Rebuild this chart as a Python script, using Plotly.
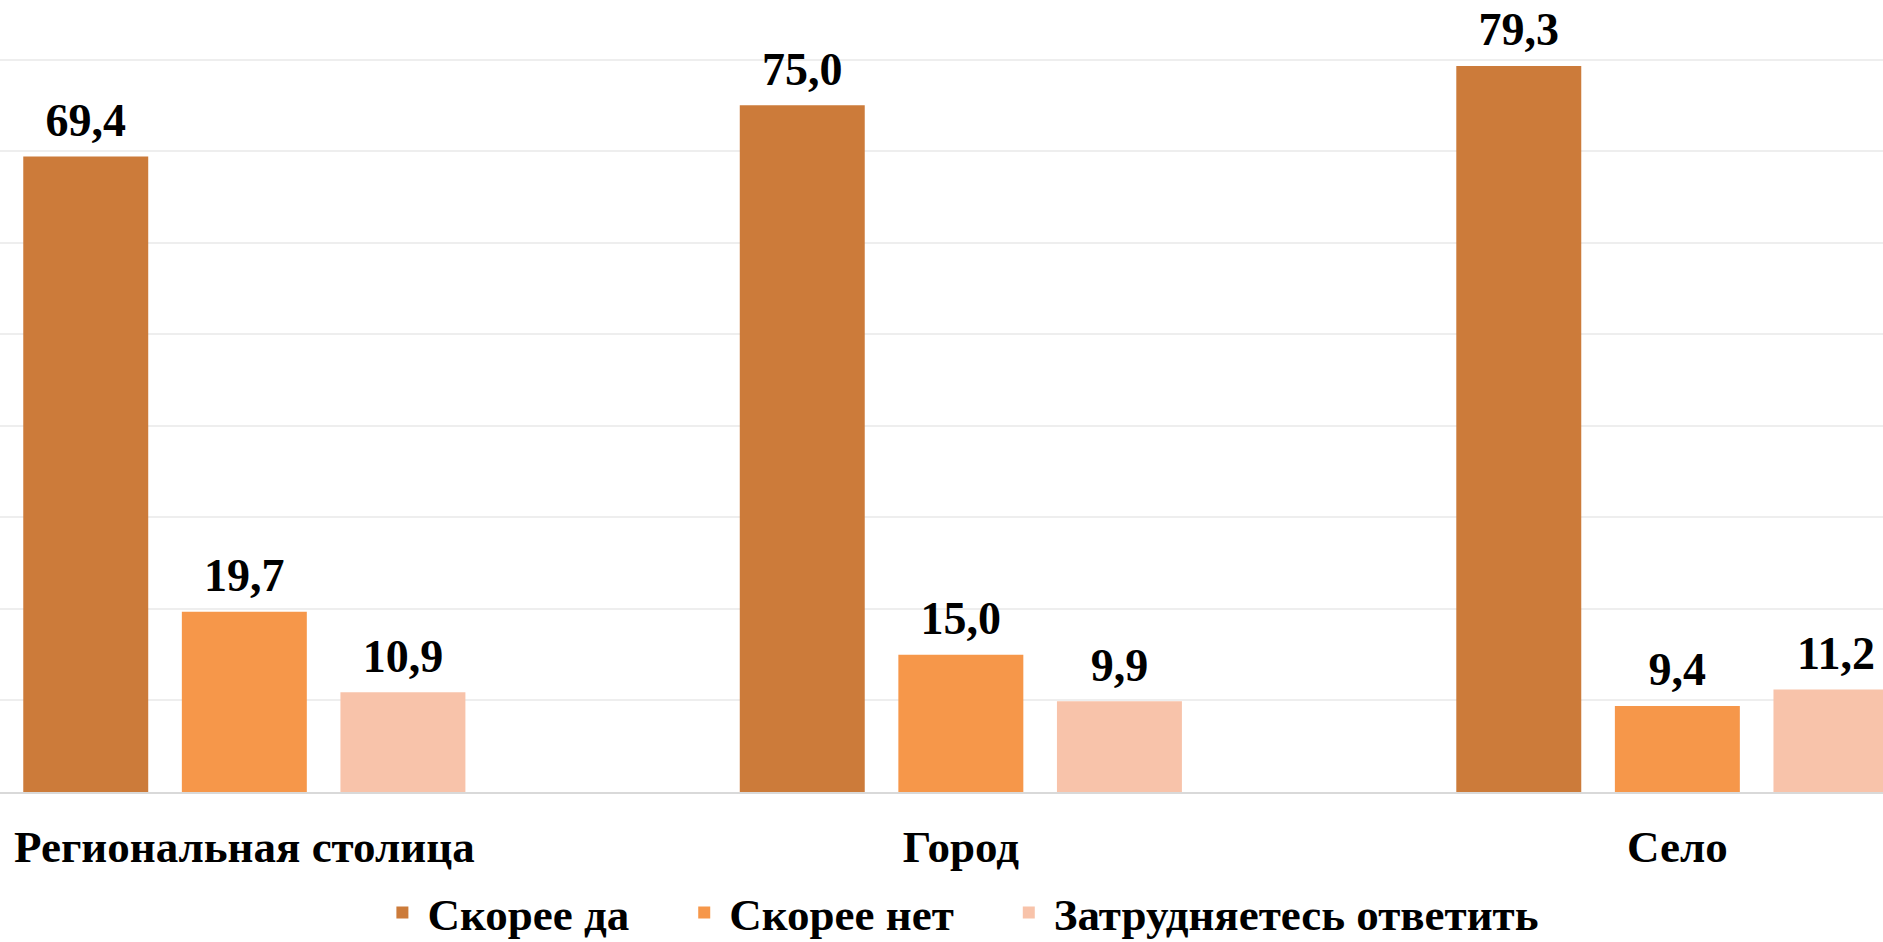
import plotly.graph_objects as go

categories = ["Региональная столица", "Город", "Село"]
series_names = ["Скорее да", "Скорее нет", "Затрудняетесь ответить"]
yes_values = [69.4, 75.0, 79.3]
no_values = [19.7, 15.0, 9.4]
hard_values = [10.9, 9.9, 11.2]
colors = ["#CC7B3A", "#F6974A", "#F8C3AA"]

FONT = "Liberation Serif"
PAD = "\u00a0" * 4

fig = go.Figure()
for i, (name, vals, col) in enumerate(zip(series_names, [yes_values, no_values, hard_values], colors)):
    label = "<b>" + name + "</b>" + (PAD if i < len(series_names) - 1 else "")
    fig.add_trace(go.Bar(
        x=categories, y=vals, name=label,
        marker=dict(color=col, line=dict(width=0)),
    ))
for name, vals in zip(series_names, [yes_values, no_values, hard_values]):
    fig.add_trace(go.Scatter(
        x=categories, y=vals, name=name, mode="markers+text",
        marker=dict(size=13, color="rgba(0,0,0,0)"),
        texttemplate="<b>%{y:.1f}</b>", textposition="top center",
        textfont=dict(family=FONT, size=46, color="#000000"),
        showlegend=False, cliponaxis=False, hoverinfo="skip",
    ))

fig.update_layout(
    width=1883, height=942,
    margin=dict(l=0, r=0, t=0, b=150),
    paper_bgcolor="white", plot_bgcolor="white",
    barmode="group", bargap=0.336, bargroupgap=0.212,
    scattermode="group", scattergap=0.336,
    separators=", ",
    showlegend=True,
    legend=dict(orientation="h", x=0.5103, xanchor="center",
                yref="container", y=0.031, yanchor="middle",
                font=dict(family=FONT, size=45, color="#000000"),
                itemwidth=40, traceorder="normal", maxheight=300,
                bgcolor="rgba(0,0,0,0)"),
    font=dict(family=FONT),
)
fig.update_xaxes(
    range=[-0.341, 2.287], showgrid=False,
    showline=True, linecolor="#D9D9D9", linewidth=2,
    ticks="", ticklabelstandoff=14,
    tickfont=dict(family=FONT, size=45, color="#000000"),
    tickprefix="<b>", ticksuffix="</b>",
)
fig.update_yaxes(
    range=[0, 86.5], dtick=10, showgrid=True, gridcolor="#EEEEEE", gridwidth=2,
    showticklabels=False, zeroline=False, showline=False,
)

fig.write_html("out.html", config={"displayModeBar": False},
               post_script="document.body.style.margin='0';document.body.style.padding='0';")
